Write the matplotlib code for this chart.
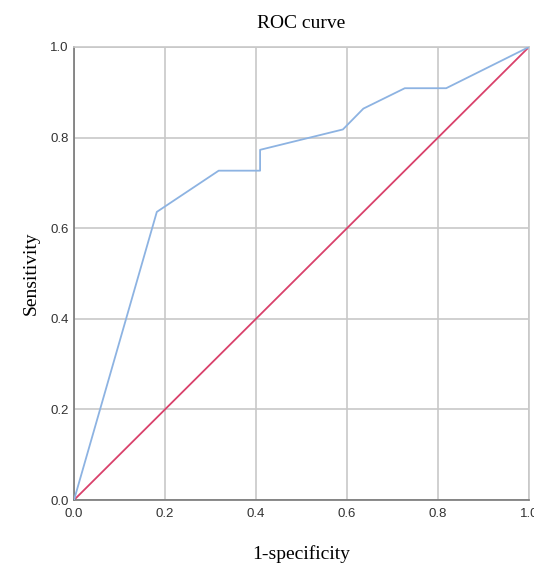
import matplotlib.pyplot as plt

fpr = [0.0, 0.182, 0.318, 0.409, 0.409, 0.591, 0.636, 0.727, 0.818, 1.0]
tpr = [0.0, 0.636, 0.727, 0.727, 0.773, 0.818, 0.864, 0.909, 0.909, 1.0]
ref = [0.0, 1.0]
ticks = [0.0, 0.2, 0.4, 0.6, 0.8, 1.0]

fig = plt.figure(figsize=(5.34, 5.71), dpi=100)
ax = fig.add_axes([0.1386, 0.1243, 0.852, 0.7934])

ax.plot(fpr, tpr, color="#8db3e2", lw=1.3, zorder=3)
ax.plot(ref, ref, color="#d9416b", lw=1.3, zorder=2)

ax.set_xlim(0, 1)
ax.set_ylim(0, 1)
ax.set_xticks(ticks)
ax.set_yticks(ticks)
ax.set_xticklabels([f"{t:.1f}" for t in ticks], fontfamily="Liberation Sans", fontsize=9.5, color="#333333")
ax.set_yticklabels([f"{t:.1f}" for t in ticks], fontfamily="Liberation Sans", fontsize=9.5, color="#333333")
ax.tick_params(axis="x", length=0, pad=6)
ax.tick_params(axis="y", length=0, pad=4)
ax.grid(True, color="#c8c8c8", lw=1.2)
ax.set_axisbelow(True)
for s in ["top", "right"]:
    ax.spines[s].set_color("#c8c8c8")
    ax.spines[s].set_linewidth(1.2)
for s in ["left", "bottom"]:
    ax.spines[s].set_color("#777777")
    ax.spines[s].set_linewidth(1.2)

ax.set_title("ROC curve", fontfamily="Liberation Serif", fontsize=14, pad=14)
ax.set_xlabel("1-specificity", fontfamily="Liberation Serif", fontsize=14, labelpad=18)
ax.set_ylabel("Sensitivity", fontfamily="Liberation Serif", fontsize=14, labelpad=7)

fig.savefig("out.png", dpi=100)
